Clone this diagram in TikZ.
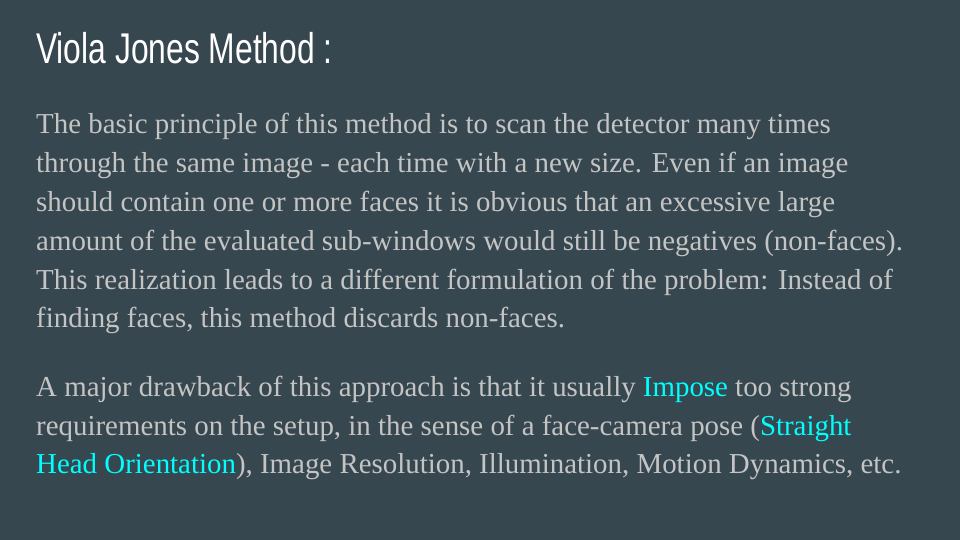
\documentclass[tikz,border=0pt]{standalone}
\usepackage{fontspec}
\setmainfont{Liberation Serif}
\newfontfamily\titlefont[FakeStretch=0.74]{Liberation Sans}
\definecolor{slidebg}{HTML}{37474F}
\definecolor{bodygray}{HTML}{C4C4C4}
\definecolor{hilite}{HTML}{00FFFF}
\begin{document}
\begin{tikzpicture}[x=1pt,y=1pt,
    slidetitle/.style={anchor=base west, inner sep=0pt, text=white, font=\titlefont\fontsize{43}{48}\selectfont},
    bodytext/.style={anchor=base west, inner sep=0pt, text=bodygray, align=left, font=\fontsize{28.9}{38.8}\selectfont}]

    \fill[slidebg] (0,0) rectangle (960,540);
    \useasboundingbox (0,0) rectangle (960,540);

    % titel
    \node[slidetitle] (title) at (36,476) {Viola Jones Method :};

    % eerste alinea (base = laatste regel)
    \node[bodytext] (intro) at (36,212) {The basic principle of this method is to scan the detector many times\\
        through the same image - each time with a new size. Even if an image\\
        should contain one or more faces it is obvious that an excessive large\\
        amount of the evaluated sub-windows would still be negatives (non-faces).\\
        This realization leads to a different formulation of the problem: Instead of\\
        finding faces, this method discards non-faces.};

    % tweede alinea
    \node[bodytext] (drawback) at (36,66) {A major drawback of this approach is that it usually \textcolor{hilite}{Impose} too strong\\
        requirements on the setup, in the sense of a face-camera pose (\textcolor{hilite}{Straight}\\
        \textcolor{hilite}{Head Orientation}), Image Resolution, Illumination, Motion Dynamics, etc.};
\end{tikzpicture}
\end{document}
